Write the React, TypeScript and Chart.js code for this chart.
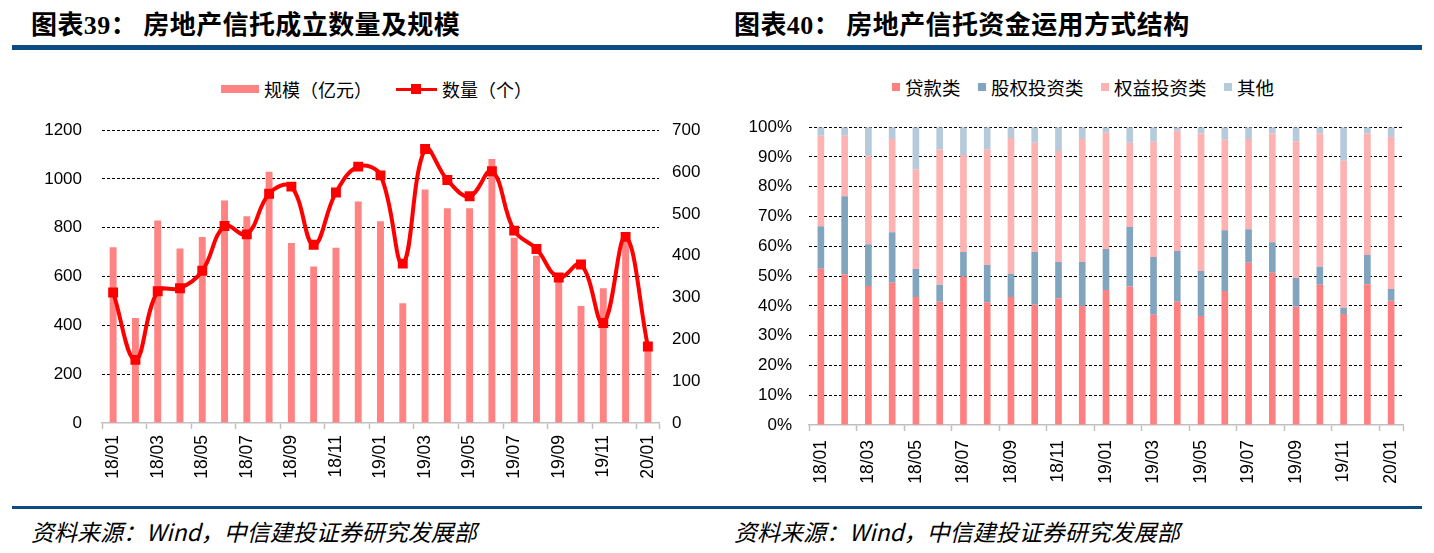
import React, { useEffect, useRef } from 'react';
import { Chart, registerables } from 'chart.js';

Chart.register(...registerables);

const categories = [
  '18/01', '18/02', '18/03', '18/04', '18/05', '18/06', '18/07', '18/08', '18/09', '18/10', '18/11', '18/12',
  '19/01', '19/02', '19/03', '19/04', '19/05', '19/06', '19/07', '19/08', '19/09', '19/10', '19/11', '19/12',
  '20/01',
];

// 规模（亿元）
const trustScale = [720, 430, 830, 715, 762, 912, 847, 1030, 738, 641, 718, 908, 827, 491, 957, 880, 880, 1082, 759, 685, 583, 479, 552, 760, 300];
// 数量（个）
const trustCount = [312, 151, 315, 322, 364, 471, 451, 548, 565, 426, 551, 613, 592, 381, 655, 581, 542, 602, 460, 416, 348, 379, 239, 445, 183];

// 资金运用方式结构 (%)
const loanShare = [52.5, 50.6, 46.7, 47.8, 43.0, 41.4, 49.8, 41.2, 43.0, 40.4, 42.6, 40.0, 45.3, 46.5, 37.0, 41.4, 36.6, 45.0, 54.5, 51.1, 39.7, 47.1, 37.3, 47.3, 41.7];
const stockShare = [14.2, 26.2, 14.0, 16.9, 9.4, 5.7, 8.3, 12.5, 7.8, 17.7, 12.1, 14.7, 13.8, 20.0, 19.4, 17.0, 15.1, 20.4, 11.2, 10.3, 9.7, 6.0, 2.1, 9.8, 4.0];
const equityShare = [30.4, 20.3, 29.7, 31.3, 33.4, 45.4, 32.6, 38.8, 45.6, 36.7, 37.3, 41.3, 39.0, 28.3, 38.7, 40.4, 46.2, 30.4, 30.3, 36.5, 45.9, 44.8, 49.3, 40.8, 51.0];
const otherShare = [2.9, 2.9, 9.6, 4.0, 14.2, 7.5, 9.3, 7.5, 3.6, 5.2, 8.0, 4.0, 1.9, 5.2, 4.9, 1.2, 2.1, 4.2, 4.0, 2.1, 4.7, 2.1, 11.3, 2.1, 3.3];

const leftTicks = [0, 200, 400, 600, 800, 1000, 1200];
const rightTicks = [0, 100, 200, 300, 400, 500, 600, 700];

const seriesNames = ['贷款类', '股权投资类', '权益投资类', '其他'];
const seriesColors = ['#FF8080', '#81A5BF', '#FFB2B2', '#B5CADB'];

const FONT = '"Liberation Sans", Arial, sans-serif';
const CJK = '"Noto Sans CJK SC", sans-serif';

const AXIS_GRAY = '#C0C0C0';

function xTickColor(ctx: any) {
  if (ctx.index === undefined) return AXIS_GRAY;
  return ctx.index % 2 === 0 ? AXIS_GRAY : 'rgba(0,0,0,0)';
}

function gridColor(ctx: any) {
  return ctx.tick && ctx.tick.value === 0 ? 'rgba(0,0,0,0)' : '#000000';
}

function ScaleChart() {
  const ref = useRef<HTMLCanvasElement | null>(null);
  useEffect(() => {
    if (!ref.current) return;
    const chart = new Chart(ref.current, {
      type: 'bar',
      data: {
        labels: categories,
        datasets: [
          {
            type: 'line',
            label: '数量（个）',
            data: trustCount,
            yAxisID: 'y1',
            borderColor: '#FF0000',
            backgroundColor: '#FF0000',
            borderWidth: 4,
            tension: 0.4,
            pointStyle: 'rect',
            pointRadius: 7,
            pointBorderWidth: 0,
            pointBackgroundColor: '#FF0000',
            order: 0,
          } as any,
          {
            type: 'bar',
            label: '规模（亿元）',
            data: trustScale,
            yAxisID: 'y',
            backgroundColor: '#FF8383',
            barPercentage: 0.31,
            categoryPercentage: 1,
            order: 1,
          } as any,
        ],
      },
      options: {
        responsive: false,
        animation: false,
        layout: { padding: { top: 26, left: 0, right: 0, bottom: 0 } },
        plugins: { legend: { display: false }, tooltip: { enabled: false } },
        scales: {
          x: {
            grid: { offset: true, drawOnChartArea: false, drawTicks: true, tickLength: 6, tickWidth: 1.5, tickColor: xTickColor },
            border: { color: AXIS_GRAY, width: 1.5 },
            ticks: {
              autoSkip: false,
              minRotation: 90,
              maxRotation: 90,
              padding: 6,
              color: '#000',
              font: { family: FONT, size: 17.5 },
              callback: (_v: any, i: number) => (i % 2 === 0 ? categories[i] : ''),
            },
            afterFit: (s: any) => { s.height = 77; },
          },
          y: {
            position: 'left',
            min: leftTicks[0],
            max: leftTicks[leftTicks.length - 1],
            afterBuildTicks: (s: any) => { s.ticks = leftTicks.map((v) => ({ value: v })); },
            ticks: { padding: 20, color: '#000', font: { family: FONT, size: 17 }, callback: (v: any) => String(v) },
            grid: { color: gridColor, drawTicks: false, lineWidth: 1 },
            border: { display: false, dash: [3, 2] },
            afterFit: (s: any) => { s.width = 102; },
          },
          y1: {
            position: 'right',
            min: rightTicks[0],
            max: rightTicks[rightTicks.length - 1],
            afterBuildTicks: (s: any) => { s.ticks = rightTicks.map((v) => ({ value: v })); },
            ticks: { padding: 13, color: '#000', font: { family: FONT, size: 17 }, callback: (v: any) => String(v) },
            grid: { display: false, drawTicks: false },
            border: { display: false },
            afterFit: (s: any) => { s.width = 61; },
          },
        },
      } as any,
    });
    return () => chart.destroy();
  }, []);
  return <canvas ref={ref} width={720} height={400} style={{ position: 'absolute', left: 0, top: 100, width: 720, height: 400 }} />;
}

function StructureChart() {
  const ref = useRef<HTMLCanvasElement | null>(null);
  useEffect(() => {
    if (!ref.current) return;
    const shares = [loanShare, stockShare, equityShare, otherShare];
    const chart = new Chart(ref.current, {
      type: 'bar',
      data: {
        labels: categories,
        datasets: shares.map((d, k) => ({
          label: seriesNames[k],
          data: d,
          backgroundColor: seriesColors[k],
          barPercentage: 0.28,
          categoryPercentage: 1,
        })),
      },
      options: {
        responsive: false,
        animation: false,
        layout: { padding: { top: 25, left: 0, right: 31, bottom: 0 } },
        plugins: { legend: { display: false }, tooltip: { enabled: false } },
        scales: {
          x: {
            stacked: true,
            grid: { offset: true, drawOnChartArea: false, drawTicks: true, tickLength: 6, tickWidth: 1.5, tickColor: xTickColor },
            border: { color: AXIS_GRAY, width: 1.5 },
            ticks: {
              autoSkip: false,
              minRotation: 90,
              maxRotation: 90,
              padding: 9,
              color: '#000',
              font: { family: FONT, size: 17.5 },
              callback: (_v: any, i: number) => (i % 2 === 0 ? categories[i] : ''),
            },
            afterFit: (s: any) => { s.height = 75; },
          },
          y: {
            stacked: true,
            min: 0,
            max: 100,
            ticks: { stepSize: 10, padding: 17, color: '#000', font: { family: FONT, size: 17 }, callback: (v: any) => v + '%' },
            grid: { color: gridColor, drawTicks: false, lineWidth: 1 },
            border: { display: false, dash: [3, 2] },
            afterFit: (s: any) => { s.width = 89; },
          },
        },
      } as any,
    });
    return () => chart.destroy();
  }, []);
  return <canvas ref={ref} width={714} height={400} style={{ position: 'absolute', left: 720, top: 100, width: 714, height: 400 }} />;
}

const titleStyle: React.CSSProperties = {
  position: 'absolute',
  top: 7,
  fontFamily: CJK,
  fontWeight: 700,
  fontSize: 26,
  letterSpacing: 0.4,
  lineHeight: '32px',
  color: '#000',
  whiteSpace: 'nowrap',
};

const footStyle: React.CSSProperties = {
  position: 'absolute',
  top: 516,
  fontFamily: CJK,
  fontStyle: 'italic',
  fontSize: 23,
  lineHeight: '30px',
  color: '#000',
  whiteSpace: 'nowrap',
};

const legendText: React.CSSProperties = {
  position: 'absolute',
  fontFamily: CJK,
  color: '#000',
  whiteSpace: 'nowrap',
};

export default function App() {
  const rightLegend = [
    { box: 892, text: 905 },
    { box: 978, text: 991 },
    { box: 1101, text: 1114 },
    { box: 1224, text: 1237 },
  ];
  return (
    <div style={{ position: 'absolute', left: 0, top: 0, width: 1434, height: 553, background: '#fff', overflow: 'hidden' }}>
      <div style={{ ...titleStyle, left: 31 }}>
        图表<span style={{ fontFamily: '"Liberation Serif", serif' }}>39</span>：&nbsp;房地产信托成立数量及规模
      </div>
      <div style={{ ...titleStyle, left: 734 }}>
        图表<span style={{ fontFamily: '"Liberation Serif", serif' }}>40</span>：&nbsp;房地产信托资金运用方式结构
      </div>
      <div style={{ position: 'absolute', left: 12, top: 45, width: 1410, height: 5, background: '#0C4C82' }} />
      <div style={{ position: 'absolute', left: 12, top: 506, width: 1410, height: 3, background: '#0C4C82' }} />

      {/* left legend */}
      <div style={{ position: 'absolute', left: 221, top: 85, width: 38, height: 8, background: '#FF8383' }} />
      <div style={{ ...legendText, left: 264, top: 76, fontSize: 18, lineHeight: '26px' }}>规模（亿元）</div>
      <div style={{ position: 'absolute', left: 396, top: 88, width: 41, height: 3, background: '#FF0000' }} />
      <div style={{ position: 'absolute', left: 411, top: 84, width: 10, height: 10, background: '#FF0000' }} />
      <div style={{ ...legendText, left: 442, top: 76, fontSize: 18, lineHeight: '26px' }}>数量（个）</div>

      {/* right legend */}
      {rightLegend.map((p, k) => (
        <React.Fragment key={k}>
          <div style={{ position: 'absolute', left: p.box, top: 83, width: 8, height: 8, background: seriesColors[k] }} />
          <div style={{ ...legendText, left: p.text, top: 74, fontSize: 18.5, lineHeight: '26px' }}>{seriesNames[k]}</div>
        </React.Fragment>
      ))}

      <ScaleChart />
      <StructureChart />

      <div style={{ ...footStyle, left: 31 }}>资料来源：Wind，中信建投证券研究发展部</div>
      <div style={{ ...footStyle, left: 734 }}>资料来源：Wind，中信建投证券研究发展部</div>
    </div>
  );
}
